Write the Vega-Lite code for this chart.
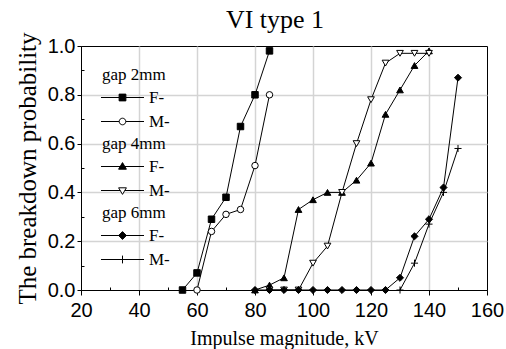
{
  "$schema": "https://vega.github.io/schema/vega-lite/v6.json",
  "width": 406,
  "height": 244,
  "autosize": "none",
  "padding": {"left": 81, "top": 46, "right": 19, "bottom": 59},
  "title": {"text": "VI type 1", "font": "Liberation Serif", "fontSize": 26, "fontWeight": "normal", "color": "black", "offset": -4, "dx": -9},
  "data": {"values": [
    {"gap": "2mm", "type": "F-", "kv": 55, "p": 0},
    {"gap": "2mm", "type": "F-", "kv": 60, "p": 0.07},
    {"gap": "2mm", "type": "F-", "kv": 65, "p": 0.29},
    {"gap": "2mm", "type": "F-", "kv": 70, "p": 0.38},
    {"gap": "2mm", "type": "F-", "kv": 75, "p": 0.67},
    {"gap": "2mm", "type": "F-", "kv": 80, "p": 0.80},
    {"gap": "2mm", "type": "F-", "kv": 85, "p": 0.98},
    {"gap": "2mm", "type": "M-", "kv": 60, "p": 0},
    {"gap": "2mm", "type": "M-", "kv": 65, "p": 0.24},
    {"gap": "2mm", "type": "M-", "kv": 70, "p": 0.31},
    {"gap": "2mm", "type": "M-", "kv": 75, "p": 0.33},
    {"gap": "2mm", "type": "M-", "kv": 80, "p": 0.51},
    {"gap": "2mm", "type": "M-", "kv": 85, "p": 0.80},
    {"gap": "4mm", "type": "F-", "kv": 80, "p": 0},
    {"gap": "4mm", "type": "F-", "kv": 85, "p": 0.02},
    {"gap": "4mm", "type": "F-", "kv": 90, "p": 0.05},
    {"gap": "4mm", "type": "F-", "kv": 95, "p": 0.33},
    {"gap": "4mm", "type": "F-", "kv": 100, "p": 0.37},
    {"gap": "4mm", "type": "F-", "kv": 105, "p": 0.40},
    {"gap": "4mm", "type": "F-", "kv": 110, "p": 0.40},
    {"gap": "4mm", "type": "F-", "kv": 115, "p": 0.45},
    {"gap": "4mm", "type": "F-", "kv": 120, "p": 0.52},
    {"gap": "4mm", "type": "F-", "kv": 125, "p": 0.72},
    {"gap": "4mm", "type": "F-", "kv": 130, "p": 0.82},
    {"gap": "4mm", "type": "F-", "kv": 135, "p": 0.92},
    {"gap": "4mm", "type": "F-", "kv": 140, "p": 0.98},
    {"gap": "4mm", "type": "M-", "kv": 85, "p": 0},
    {"gap": "4mm", "type": "M-", "kv": 90, "p": 0},
    {"gap": "4mm", "type": "M-", "kv": 95, "p": 0},
    {"gap": "4mm", "type": "M-", "kv": 100, "p": 0.11},
    {"gap": "4mm", "type": "M-", "kv": 105, "p": 0.18},
    {"gap": "4mm", "type": "M-", "kv": 110, "p": 0.40},
    {"gap": "4mm", "type": "M-", "kv": 115, "p": 0.60},
    {"gap": "4mm", "type": "M-", "kv": 120, "p": 0.78},
    {"gap": "4mm", "type": "M-", "kv": 125, "p": 0.93},
    {"gap": "4mm", "type": "M-", "kv": 130, "p": 0.97},
    {"gap": "4mm", "type": "M-", "kv": 135, "p": 0.97},
    {"gap": "4mm", "type": "M-", "kv": 140, "p": 0.97},
    {"gap": "6mm", "type": "F-", "kv": 80, "p": 0},
    {"gap": "6mm", "type": "F-", "kv": 85, "p": 0},
    {"gap": "6mm", "type": "F-", "kv": 90, "p": 0},
    {"gap": "6mm", "type": "F-", "kv": 95, "p": 0},
    {"gap": "6mm", "type": "F-", "kv": 100, "p": 0},
    {"gap": "6mm", "type": "F-", "kv": 105, "p": 0},
    {"gap": "6mm", "type": "F-", "kv": 110, "p": 0},
    {"gap": "6mm", "type": "F-", "kv": 115, "p": 0},
    {"gap": "6mm", "type": "F-", "kv": 120, "p": 0},
    {"gap": "6mm", "type": "F-", "kv": 125, "p": 0},
    {"gap": "6mm", "type": "F-", "kv": 130, "p": 0.05},
    {"gap": "6mm", "type": "F-", "kv": 135, "p": 0.22},
    {"gap": "6mm", "type": "F-", "kv": 140, "p": 0.29},
    {"gap": "6mm", "type": "F-", "kv": 145, "p": 0.42},
    {"gap": "6mm", "type": "F-", "kv": 150, "p": 0.87},
    {"gap": "6mm", "type": "M-", "kv": 130, "p": 0},
    {"gap": "6mm", "type": "M-", "kv": 135, "p": 0.11},
    {"gap": "6mm", "type": "M-", "kv": 140, "p": 0.27},
    {"gap": "6mm", "type": "M-", "kv": 145, "p": 0.40},
    {"gap": "6mm", "type": "M-", "kv": 150, "p": 0.58}
  ]},
  "encoding": {
    "x": {"field": "kv", "type": "quantitative",
      "scale": {"domain": [20, 160], "nice": false, "zero": false},
      "axis": {"title": "Impulse magnitude, kV",
        "values": [20, 30, 40, 50, 60, 70, 80, 90, 100, 110, 120, 130, 140, 150, 160],
        "labelExpr": "datum.value % 20 == 0 ? datum.label : ''",
        "format": "d",
        "labelFlush": false,
        "grid": true,
        "gridColor": {"condition": {"test": "datum.value % 20 == 0 && datum.value > 20 && datum.value < 160", "value": "#d4d4d4"}, "value": "rgba(0,0,0,0)"},
        "tickSize": {"condition": {"test": "datum.value % 20 == 0", "value": 5}, "value": -3},
        "labelPadding": 5,
        "titlePadding": 8}},
    "y": {"field": "p", "type": "quantitative",
      "scale": {"domain": [0, 1], "nice": false},
      "axis": {"title": "The  breakdown probability",
        "values": [0, 0.1, 0.2, 0.3, 0.4, 0.5, 0.6, 0.7, 0.8, 0.9, 1.0],
        "labelExpr": "round(datum.value * 10) % 2 == 0 ? datum.label : ''",
        "format": ".1f",
        "labelFlush": false,
        "grid": true,
        "gridColor": {"condition": {"test": "round(datum.value * 10) % 2 == 0 && datum.value > 0.01 && datum.value < 0.99", "value": "#d4d4d4"}, "value": "rgba(0,0,0,0)"},
        "tickSize": {"condition": {"test": "round(datum.value * 10) % 2 == 0", "value": 4}, "value": -3},
        "labelPadding": 2,
        "titleFontSize": 25,
        "titlePadding": 7}}
  },
  "layer": [
    {
      "transform": [{"filter": "datum.gap == '2mm'"}],
      "layer": [
        {"mark": {"type": "line", "color": "black", "strokeWidth": 1}, "encoding": {"detail": {"field": "type"}}},
        {"mark": {"type": "point", "filled": true, "stroke": "black", "strokeWidth": 1, "size": 42, "opacity": 1},
          "encoding": {
            "shape": {"field": "type", "scale": {"domain": ["F-", "M-"], "range": ["square", "circle"]}, "legend": null},
            "fill": {"field": "type", "scale": {"domain": ["F-", "M-"], "range": ["black", "white"]}, "legend": null}}},
        {"mark": {"type": "point", "filled": true, "strokeWidth": 1, "size": 36, "opacity": 0},
          "encoding": {
            "shape": {"field": "type", "scale": {"domain": ["F-", "M-"], "range": ["M-3.17,0H2.87M5.13,0H11.17M2.87,-1.13H5.13V1.13H2.87Z", "M-3.17,0H2.9M5.1,0H11.17M2.9,0A1.1,1.1,0,1,0,5.1,0A1.1,1.1,0,1,0,2.9,0Z"]},
              "legend": {"title": "gap 2mm", "orient": "top-left", "symbolSize": 36, "symbolOpacity": 1, "symbolStrokeWidth": 1, "labelOffset": 30}},
            "fill": {"field": "type", "scale": {"domain": ["F-", "M-"], "range": ["black", "white"]},
              "legend": {"title": "gap 2mm", "orient": "top-left", "symbolSize": 36, "symbolOpacity": 1, "symbolStrokeWidth": 1, "labelOffset": 30}},
            "stroke": {"field": "type", "scale": {"domain": ["F-", "M-"], "range": ["black", "black"]},
              "legend": {"title": "gap 2mm", "orient": "top-left", "symbolSize": 36, "symbolOpacity": 1, "symbolStrokeWidth": 1, "labelOffset": 30}}}}
      ],
      "resolve": {"scale": {"shape": "independent", "fill": "independent", "stroke": "independent"}}
    },
    {
      "transform": [{"filter": "datum.gap == '4mm'"}],
      "layer": [
        {"mark": {"type": "line", "color": "black", "strokeWidth": 1}, "encoding": {"detail": {"field": "type"}}},
        {"mark": {"type": "point", "filled": true, "stroke": "black", "strokeWidth": 1, "size": 45, "opacity": 1},
          "encoding": {
            "shape": {"field": "type", "scale": {"domain": ["F-", "M-"], "range": ["triangle-up", "triangle-down"]}, "legend": null},
            "fill": {"field": "type", "scale": {"domain": ["F-", "M-"], "range": ["black", "white"]}, "legend": null}}},
        {"mark": {"type": "point", "filled": true, "strokeWidth": 1, "size": 36, "opacity": 0},
          "encoding": {
            "shape": {"field": "type", "scale": {"domain": ["F-", "M-"], "range": ["M-3.17,0H11.17M2.7,0.9L4,-1.3L5.3,0.9Z", "M-3.17,0H3.23M4.77,0H11.17M2.7,-0.9H5.3L4,1.3Z"]},
              "legend": {"title": "gap 4mm", "orient": "top-left", "symbolSize": 36, "symbolOpacity": 1, "symbolStrokeWidth": 1, "labelOffset": 30}},
            "fill": {"field": "type", "scale": {"domain": ["F-", "M-"], "range": ["black", "white"]},
              "legend": {"title": "gap 4mm", "orient": "top-left", "symbolSize": 36, "symbolOpacity": 1, "symbolStrokeWidth": 1, "labelOffset": 30}},
            "stroke": {"field": "type", "scale": {"domain": ["F-", "M-"], "range": ["black", "black"]},
              "legend": {"title": "gap 4mm", "orient": "top-left", "symbolSize": 36, "symbolOpacity": 1, "symbolStrokeWidth": 1, "labelOffset": 30}}}}
      ],
      "resolve": {"scale": {"shape": "independent", "fill": "independent", "stroke": "independent"}}
    },
    {
      "transform": [{"filter": "datum.gap == '6mm'"}],
      "layer": [
        {"mark": {"type": "line", "color": "black", "strokeWidth": 1}, "encoding": {"detail": {"field": "type"}}},
        {"mark": {"type": "point", "filled": true, "stroke": "black", "strokeWidth": 1, "size": 50, "opacity": 1},
          "encoding": {
            "shape": {"field": "type", "scale": {"domain": ["F-", "M-"], "range": ["diamond", "M-1,0H1M0,-1V1"]}, "legend": null},
            "fill": {"field": "type", "scale": {"domain": ["F-", "M-"], "range": ["black", "white"]}, "legend": null}}},
        {"mark": {"type": "point", "filled": true, "strokeWidth": 1, "size": 36, "opacity": 0},
          "encoding": {
            "shape": {"field": "type", "scale": {"domain": ["F-", "M-"], "range": ["M-3.17,0H11.17M4,-1.3L5.3,0L4,1.3L2.7,0Z", "M-3.17,0H11.17M4,-1.3V1.3"]},
              "legend": {"title": "gap 6mm", "orient": "top-left", "symbolSize": 36, "symbolOpacity": 1, "symbolStrokeWidth": 1, "labelOffset": 30}},
            "fill": {"field": "type", "scale": {"domain": ["F-", "M-"], "range": ["black", "white"]},
              "legend": {"title": "gap 6mm", "orient": "top-left", "symbolSize": 36, "symbolOpacity": 1, "symbolStrokeWidth": 1, "labelOffset": 30}},
            "stroke": {"field": "type", "scale": {"domain": ["F-", "M-"], "range": ["black", "black"]},
              "legend": {"title": "gap 6mm", "orient": "top-left", "symbolSize": 36, "symbolOpacity": 1, "symbolStrokeWidth": 1, "labelOffset": 30}}}}
      ],
      "resolve": {"scale": {"shape": "independent", "fill": "independent", "stroke": "independent"}}
    }
  ],
  "resolve": {"scale": {"shape": "independent", "fill": "independent", "stroke": "independent"}},
  "config": {
    "view": {"stroke": "black", "strokeWidth": 1},
    "axis": {
      "domainColor": "black", "domainWidth": 1,
      "tickColor": "black", "tickWidth": 1,
      "gridWidth": 1.5,
      "labelFont": "Liberation Sans", "labelFontSize": 20, "labelColor": "black",
      "titleFont": "Liberation Serif", "titleFontSize": 20, "titleFontWeight": "normal", "titleColor": "black",
      "labelOverlap": false
    },
    "legend": {
      "titleFont": "Liberation Serif", "titleFontSize": 17, "titleFontWeight": "normal", "titleColor": "black",
      "labelFont": "Liberation Serif", "labelFontSize": 17, "labelColor": "black",
      "padding": 0, "offset": 21, "rowPadding": 6, "titlePadding": 5,
      "layout": {"top-left": {"direction": "vertical", "margin": 6}}
    }
  }
}
